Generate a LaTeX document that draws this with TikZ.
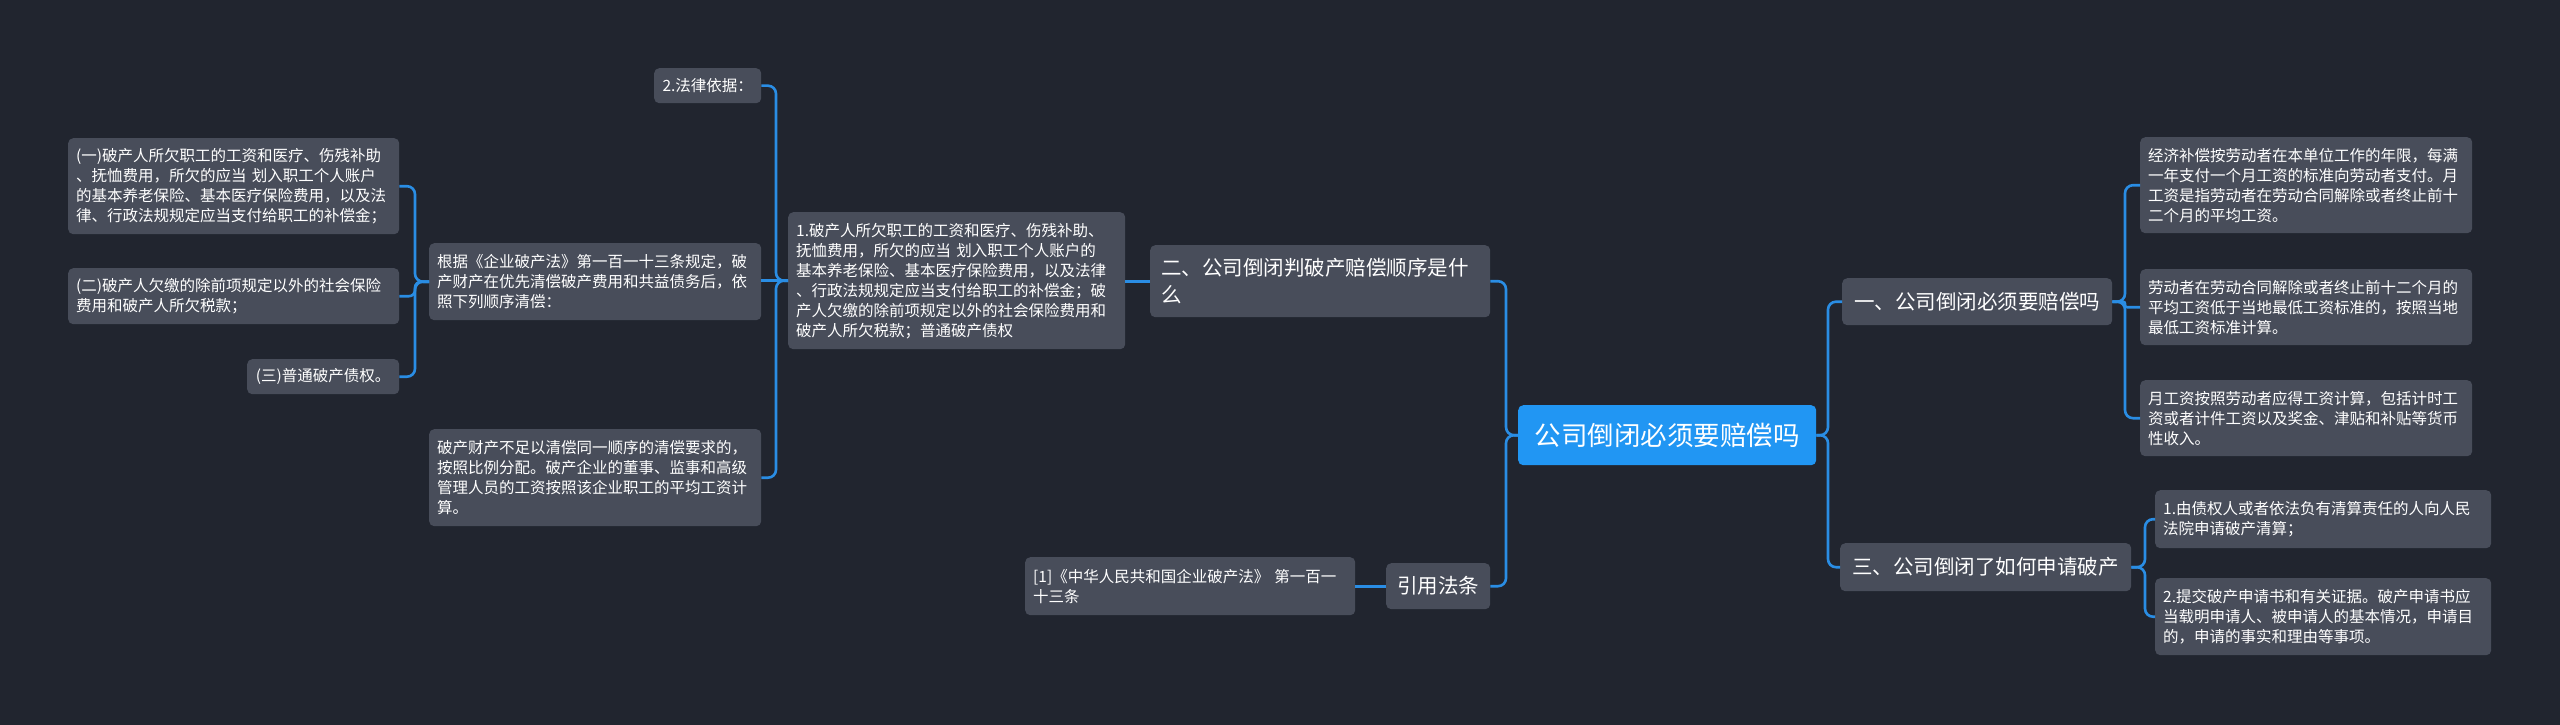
\documentclass[tikz,border=0pt]{standalone}
\usepackage{fontspec}
\newfontfamily\cjk{Noto Sans CJK SC}
\definecolor{bg}{HTML}{21252F}
\definecolor{nodefill}{HTML}{484D5A}
\definecolor{linec}{HTML}{2A8DE4}
\definecolor{rootfill}{HTML}{2196F3}
\tikzset{
  leaf/.style={fill=nodefill, rounded corners=5pt, text=white,
    font={\cjk\fontsize{15.5}{20}\selectfont}, align=left,
    inner xsep=8pt, inner ysep=0pt, anchor=north west},
  topic/.style={fill=nodefill, rounded corners=5pt, text=white,
    font={\cjk\fontsize{20.5}{27}\selectfont}, align=left,
    inner xsep=11pt, inner ysep=0pt, anchor=north west},
  rootbox/.style={fill=rootfill, rounded corners=5pt, text=white,
    font={\cjk\fontsize{26.5}{32}\selectfont}, align=center,
    inner sep=0pt, anchor=north west},
  conn/.style={draw=linec, line width=2.6pt, rounded corners=8pt}
}
\begin{document}
\begin{tikzpicture}[x=1pt,y=-1pt]
\useasboundingbox (0,0) rectangle (2560,725);
\fill[bg] (0,0) rectangle (2560,725);

% root
\node[rootbox, minimum width=298pt, minimum height=60pt] (root) at (1518,405) {公司倒闭必须要赔偿吗};

% right topics
\node[topic, minimum width=270pt, minimum height=47pt, align=center] (n1) at (1842,278) {一、公司倒闭必须要赔偿吗};
\node[topic, minimum width=291pt, minimum height=48pt, align=center] (n3) at (1840,543) {三、公司倒闭了如何申请破产};

% left topics
\node[topic, text width=318pt, minimum height=72pt] (n2) at (1150,245) {二、公司倒闭判破产赔偿顺序是什\\么};
\node[topic, minimum width=103pt, minimum height=46pt, align=center] (nref) at (1386,563) {引用法条};

% right leaves
\node[leaf, text width=316pt, minimum height=96pt] (A) at (2140,137) {经济补偿按劳动者在本单位工作的年限，每满\\一年支付一个月工资的标准向劳动者支付。月\\工资是指劳动者在劳动合同解除或者终止前十\\二个月的平均工资。};
\node[leaf, text width=316pt, minimum height=76pt] (B) at (2140,269) {劳动者在劳动合同解除或者终止前十二个月的\\平均工资低于当地最低工资标准的，按照当地\\最低工资标准计算。};
\node[leaf, text width=316pt, minimum height=76pt] (C) at (2140,380) {月工资按照劳动者应得工资计算，包括计时工\\资或者计件工资以及奖金、津贴和补贴等货币\\性收入。};
\node[leaf, text width=320pt, minimum height=58pt] (D) at (2155,490) {1.由债权人或者依法负有清算责任的人向人民\\法院申请破产清算；};
\node[leaf, text width=320pt, minimum height=77pt] (E) at (2155,578) {2.提交破产申请书和有关证据。破产申请书应\\当载明申请人、被申请人的基本情况，申请目\\的，申请的事实和理由等事项。};

% left leaves
\node[leaf, text width=314pt, minimum height=58pt] (ref1) at (1025,557) {[1]《中华人民共和国企业破产法》 第一百一\\十三条};
\node[leaf, text width=321pt, minimum height=137pt] (p1) at (788,212) {1.破产人所欠职工的工资和医疗、伤残补助、\\抚恤费用，所欠的应当 划入职工个人账户的\\基本养老保险、基本医疗保险费用，以及法律\\、行政法规规定应当支付给职工的补偿金；破\\产人欠缴的除前项规定以外的社会保险费用和\\破产人所欠税款；普通破产债权};
\node[leaf, minimum width=107pt, minimum height=35pt, align=center] (law) at (654,68) {2.法律依据：};
\node[leaf, text width=316pt, minimum height=77pt] (gj) at (429,243) {根据《企业破产法》第一百一十三条规定，破\\产财产在优先清偿破产费用和共益债务后，依\\照下列顺序清偿：};
\node[leaf, text width=316pt, minimum height=97pt] (bz) at (429,429) {破产财产不足以清偿同一顺序的清偿要求的，\\按照比例分配。破产企业的董事、监事和高级\\管理人员的工资按照该企业职工的平均工资计\\算。};
\node[leaf, text width=315pt, minimum height=96pt] (y1) at (68,138) {(一)破产人所欠职工的工资和医疗、伤残补助\\、抚恤费用，所欠的应当 划入职工个人账户\\的基本养老保险、基本医疗保险费用，以及法\\律、行政法规规定应当支付给职工的补偿金；};
\node[leaf, text width=315pt, minimum height=56pt] (y2) at (68,268) {(二)破产人欠缴的除前项规定以外的社会保险\\费用和破产人所欠税款；};
\node[leaf, minimum width=152pt, minimum height=35pt, align=center] (y3) at (247,359) {(三)普通破产债权。};

% bracket x positions
\coordinate (bR) at (1828,0);
\coordinate (bL) at (1506,0);
\coordinate (b1) at (2125,0);
\coordinate (b3) at (2145,0);
\coordinate (bp) at (776,0);
\coordinate (bg) at (415,0);

% connectors
\draw[conn] (root.east) -- (root.east -| bR) |- (n1.west);
\draw[conn] (root.east) -- (root.east -| bR) |- (n3.west);
\draw[conn] (root.west) -- (root.west -| bL) |- (n2.east);
\draw[conn] (root.west) -- (root.west -| bL) |- (nref.east);

\draw[conn] (n1.east) -- (n1.east -| b1) |- (A.west);
\draw[conn, rounded corners=2pt] (n1.east) -- (n1.east -| b1) |- (B.west);
\draw[conn] (n1.east) -- (n1.east -| b1) |- (C.west);
\draw[conn] (n3.east) -- (n3.east -| b3) |- (D.west);
\draw[conn] (n3.east) -- (n3.east -| b3) |- (E.west);

\draw[conn] (n2.west) -- (n2.west -| p1.east);
\draw[conn] (nref.west) -- (nref.west -| ref1.east);

\draw[conn] (p1.west) -- (p1.west -| bp) |- (law.east);
\draw[conn] (p1.west) -- (p1.west -| gj.east);
\draw[conn] (p1.west) -- (p1.west -| bp) |- (bz.east);

\draw[conn] (gj.west) -- (gj.west -| bg) |- (y1.east);
\draw[conn, rounded corners=6pt] (gj.west) -- (gj.west -| bg) |- (y2.east);
\draw[conn] (gj.west) -- (gj.west -| bg) |- (y3.east);
\end{tikzpicture}
\end{document}
